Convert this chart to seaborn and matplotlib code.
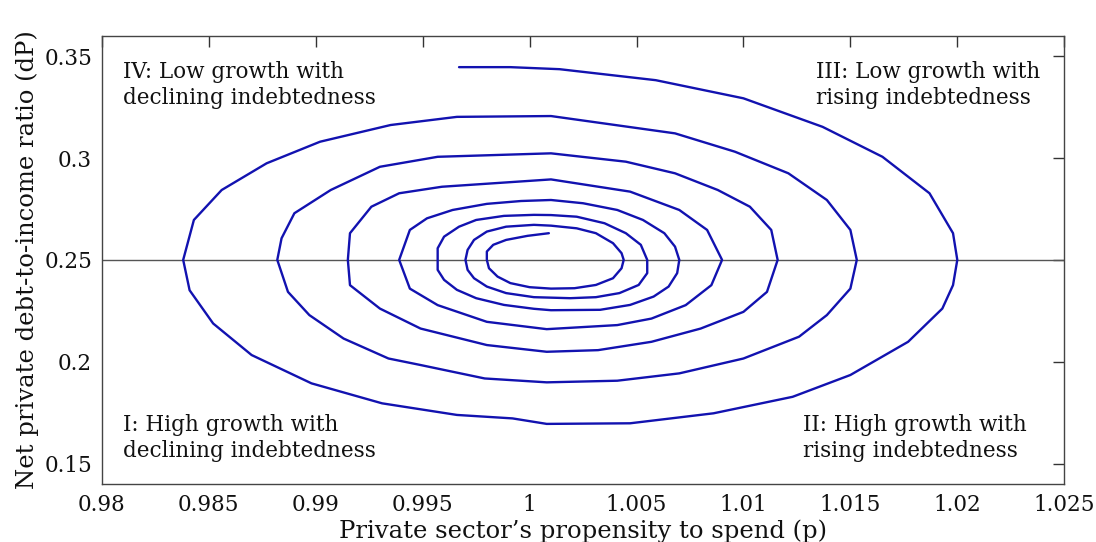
import pandas as pd
import matplotlib
matplotlib.use("Agg")
import matplotlib.pyplot as plt
import seaborn as sns

# Trajectory of (p, dP), from the outer start inwards
p_vals = [
    0.9967, 0.9991, 1.0014, 1.0059, 1.0100, 1.0137, 1.0165, 1.0187, 1.0198, 1.0200,
    1.0198, 1.0193, 1.0177, 1.0150, 1.0123, 1.0086, 1.0047, 1.0008, 0.9992, 0.9966,
    0.9931, 0.9898, 0.9870, 0.9852, 0.9841, 0.9838, 0.9843, 0.9856, 0.9877, 0.9902,
    0.9935, 0.9966, 1.0010,
    1.0068, 1.0096, 1.0121, 1.0139, 1.0150, 1.0153, 1.0150, 1.0139, 1.0126, 1.0100,
    1.0070, 1.0041, 1.0008, 0.9979, 0.9949, 0.9934, 0.9913, 0.9897, 0.9887, 0.9882,
    0.9884, 0.9890, 0.9907, 0.9930, 0.9957, 1.0010,
    1.0045, 1.0068, 1.0088, 1.0103, 1.0113, 1.0116, 1.0111, 1.0100, 1.0080, 1.0057,
    1.0032, 1.0008, 0.9980, 0.9949, 0.9930, 0.9916, 0.9915, 0.9916, 0.9926, 0.9939,
    0.9959, 1.0010,
    1.0047, 1.0070, 1.0083, 1.0090, 1.0085, 1.0073, 1.0057, 1.0041, 1.0008, 0.9980,
    0.9957, 0.9944, 0.9939, 0.9944, 0.9952, 0.9964, 0.9980, 0.9996, 1.0010,
    1.0025, 1.0041, 1.0053, 1.0063, 1.0068, 1.0070, 1.0069, 1.0065, 1.0058, 1.0047,
    1.0033, 1.0010, 1.0002, 0.9988, 0.9975, 0.9966, 0.9960, 0.9957, 0.9957, 0.9957,
    0.9960, 0.9967, 0.9975, 0.9988, 1.0002, 1.0010,
    1.0022, 1.0035, 1.0045, 1.0052, 1.0055, 1.0055, 1.0051, 1.0042, 1.0031, 1.0019,
    1.0002, 0.9989, 0.9980, 0.9974, 0.9971, 0.9970, 0.9971, 0.9974, 0.9980, 0.9989,
    1.0002, 1.0010,
    1.0022, 1.0031, 1.0039, 1.0043, 1.0044, 1.0043, 1.0039, 1.0031, 1.0021, 1.0010,
    1.0000, 0.9991, 0.9985, 0.9981, 0.9980, 0.9980, 0.9983, 0.9989, 0.9999, 1.0009,
]
dp_vals = [
    0.3446, 0.3446, 0.3436, 0.3382, 0.3293, 0.3153, 0.3006, 0.2827, 0.2631, 0.2500,
    0.2376, 0.2261, 0.2098, 0.1935, 0.1828, 0.1747, 0.1698, 0.1695, 0.1722, 0.1739,
    0.1796, 0.1894, 0.2033, 0.2188, 0.2351, 0.2500, 0.2696, 0.2843, 0.2974, 0.3080,
    0.3162, 0.3202, 0.3206,
    0.3121, 0.3031, 0.2925, 0.2794, 0.2647, 0.2500, 0.2359, 0.2229, 0.2123, 0.2016,
    0.1943, 0.1907, 0.1899, 0.1918, 0.1984, 0.2016, 0.2114, 0.2229, 0.2343, 0.2500,
    0.2606, 0.2729, 0.2843, 0.2957, 0.3006, 0.3023,
    0.2982, 0.2925, 0.2843, 0.2761, 0.2647, 0.2500, 0.2343, 0.2245, 0.2163, 0.2098,
    0.2057, 0.2049, 0.2082, 0.2163, 0.2261, 0.2376, 0.2500, 0.2631, 0.2761, 0.2827,
    0.2859, 0.2895,
    0.2835, 0.2745, 0.2647, 0.2500, 0.2376, 0.2278, 0.2212, 0.2180, 0.2160, 0.2196,
    0.2278, 0.2359, 0.2500, 0.2647, 0.2704, 0.2745, 0.2775, 0.2789, 0.2794,
    0.2778, 0.2745, 0.2696, 0.2631, 0.2565, 0.2500, 0.2435, 0.2369, 0.2320, 0.2279,
    0.2255, 0.2253, 0.2260, 0.2279, 0.2312, 0.2353, 0.2402, 0.2451, 0.2500, 0.2557,
    0.2614, 0.2663, 0.2696, 0.2716, 0.2721, 0.2720,
    0.2712, 0.2680, 0.2631, 0.2574, 0.2500, 0.2435, 0.2377, 0.2337, 0.2317, 0.2312,
    0.2317, 0.2337, 0.2369, 0.2410, 0.2451, 0.2500, 0.2549, 0.2598, 0.2639, 0.2663,
    0.2672, 0.2668,
    0.2655, 0.2631, 0.2582, 0.2533, 0.2500, 0.2459, 0.2410, 0.2377, 0.2361, 0.2359,
    0.2366, 0.2386, 0.2418, 0.2459, 0.2500, 0.2541, 0.2574, 0.2598, 0.2618, 0.2631,
]

x_ticks = [0.98, 0.985, 0.99, 0.995, 1.0, 1.005, 1.01, 1.015, 1.02, 1.025]
x_labels = ["0.98", "0.985", "0.99", "0.995", "1", "1.005", "1.01", "1.015", "1.02", "1.025"]
y_ticks = [0.15, 0.2, 0.25, 0.3, 0.35]
y_labels = ["0.15", "0.2", "0.25", "0.3", "0.35"]

quadrants = [
    "IV: Low growth with\ndeclining indebtedness",
    "III: Low growth with\nrising indebtedness",
    "I: High growth with\ndeclining indebtedness",
    "II: High growth with\nrising indebtedness",
]

df = pd.DataFrame({"p": p_vals, "dP": dp_vals})

sns.set_style("white")
plt.rcParams["font.family"] = ["DejaVu Serif"]
plt.rcParams["text.color"] = "#111111"
plt.rcParams["axes.labelcolor"] = "#111111"
plt.rcParams["xtick.color"] = "#111111"
plt.rcParams["ytick.color"] = "#111111"

fig = plt.figure(figsize=(10.96, 5.42), dpi=100)
ax = fig.add_axes([0.093, 0.107, 0.878, 0.827])

ax.axhline(0.25, color="#555555", lw=1.0, zorder=1)
sns.lineplot(data=df, x="p", y="dP", sort=False, estimator=None,
             color="#1212b0", lw=1.7, ax=ax, zorder=2)

ax.set_xlim(0.98, 1.025)
ax.set_ylim(0.14, 0.36)
ax.set_xticks(x_ticks)
ax.set_xticklabels(x_labels)
ax.set_yticks(y_ticks)
ax.set_yticklabels(y_labels)
ax.tick_params(direction="in", length=8, width=1, color="#333333",
               top=True, right=True, labelsize=15.5, pad=7)
for s in ax.spines.values():
    s.set_color("#444444")
    s.set_linewidth(1.0)

ax.set_xlabel("Private sector\u2019s propensity to spend (p)", fontsize=17.5, labelpad=3)
ax.set_ylabel("Net private debt-to-income ratio (dP)", fontsize=17.5, labelpad=4)

# quadrant notes
kw = dict(fontsize=15.5, va="top", ha="left", linespacing=1.25, color="#111111")
ax.text(0.981, 0.3478, quadrants[0], **kw)
ax.text(1.0134, 0.3478, quadrants[1], **kw)
ax.text(0.981, 0.1745, quadrants[2], **kw)
ax.text(1.0128, 0.1745, quadrants[3], **kw)

fig.savefig("out.png", dpi=100)
